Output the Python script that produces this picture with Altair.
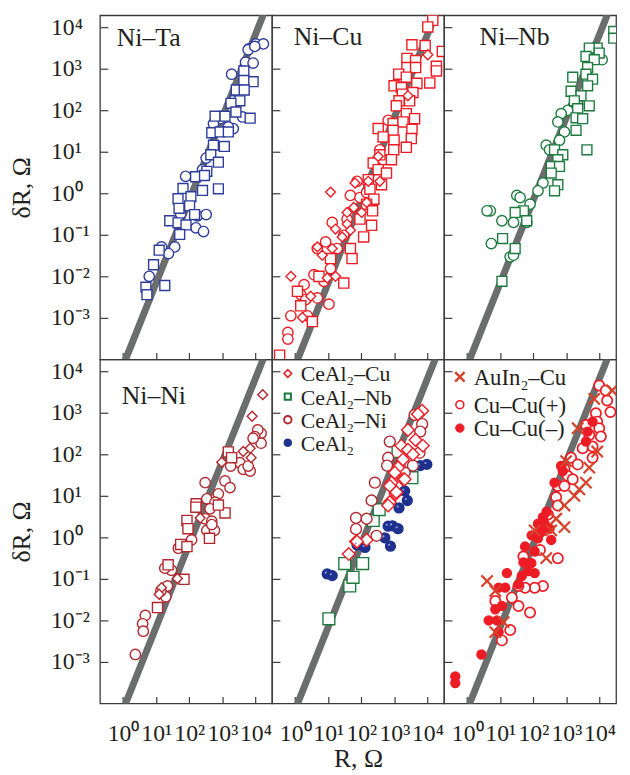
import altair as alt
import pandas as pd

FONT = "Liberation Serif"
INK = "#231f20"
W, H = 174, 348
XDOM = [10 ** -0.7, 10 ** 4.5]
YDOM = [10 ** -4.0, 10 ** 4.29]

# ---- axis ticks / labels ----
x_ticks = [1, 10, 100, 1000, 10000]
x_tick_labels = ["10⁰", "10¹", "10²", "10³", "10⁴"]
x_first_exp = 0
y_ticks = [1e-3, 1e-2, 1e-1, 1, 10, 100, 1000, 10000]
y_tick_labels = ["10⁻³", "10⁻²", "10⁻¹", "10⁰", "10¹", "10²", "10³", "10⁴"]
y_first_exp = -3

# ---- reference line dR ~ R^2 (end points, log10) ----
line_logR = [0.09, 4.22]
line_logdR = [-3.97, 4.27]

# ---- panel titles ----
panel_titles = ["Ni–Ta", "Ni–Cu", "Ni–Nb", "Ni–Ni"]

# ---- data (log10 R, log10 dR) ----
# Ni-Ta
nita_circle_logR = [4.01, 4.24, 3.80, 3.70, 3.93, 3.28, 3.61, 3.33, 3.18, 2.94, 2.73, 2.51, 2.40, 1.89, 1.74, 2.25, 2.51, 2.20, 2.43, 1.56, 1.37, 1.16, 0.79, 3.78, 3.98]
nita_circle_logdR = [3.60, 3.60, 3.48, 3.16, 3.14, 2.87, 1.84, 1.56, 1.60, 1.80, 1.68, 0.85, 0.57, 0.41, -0.50, -0.54, -0.51, -0.83, -0.92, -1.29, -1.45, -1.29, -2.00, 3.46, 3.54]
nita_square_logR = [3.65, 3.93, 3.65, 3.42, 3.66, 3.38, 3.53, 3.26, 3.41, 3.84, 2.78, 3.08, 2.68, 2.93, 3.18, 2.73, 3.06, 2.65, 2.88, 2.53, 2.19, 2.46, 1.81, 2.40, 2.88, 1.66, 2.05, 1.69, 2.01, 2.16, 1.41, 1.66, 1.90, 1.71, 1.09, 0.92, 0.69, 0.72, 1.26]
nita_square_logdR = [2.95, 2.69, 2.72, 2.49, 2.49, 2.23, 2.23, 2.17, 1.96, 1.81, 1.86, 1.86, 1.46, 1.48, 1.48, 1.16, 1.13, 0.93, 0.75, 0.53, 0.40, 0.43, 0.12, 0.07, 0.11, -0.13, -0.08, -0.36, -0.30, -0.51, -0.66, -0.71, -0.76, -0.99, -1.37, -1.72, -2.26, -2.44, -2.22]

# Ni-Cu
nicu_circle_logR = [2.81, 2.56, 2.66, 1.87, 1.67, 1.96, 2.16, 1.12, 1.57, 1.47, 0.92, 1.27, 0.67, 0.57, 0.87, 1.07, 0.27, 0.17, 0.67, 1.02, -0.13, -0.22, -0.22, 0.37, 0.32]
nicu_circle_logdR = [1.76, 1.05, 0.81, 0.29, -0.05, -0.10, 0.02, -0.70, -0.62, -1.01, -1.17, -1.33, -1.33, -1.96, -2.12, -1.81, -2.20, -2.44, -2.52, -2.67, -2.95, -3.35, -3.51, -2.95, -2.56]
nicu_square_logR = [4.16, 4.01, 3.53, 3.93, 4.45, 3.38, 3.64, 3.38, 3.64, 4.27, 4.27, 3.13, 3.36, 3.68, 4.07, 2.99, 3.21, 3.24, 3.56, 3.14, 3.46, 3.06, 3.36, 3.61, 2.96, 3.26, 2.51, 2.96, 3.53, 2.66, 2.99, 3.51, 2.98, 3.36, 2.56, 2.91, 2.36, 2.51, 2.76, 2.21, 2.61, 2.26, 2.38, 2.16, 2.34, 1.96, 2.31, 2.07, 1.67, 1.72, 1.07, 0.72, 1.47, 0.07, 0.17, 0.52, -0.47]
nicu_square_logdR = [4.17, 4.01, 3.58, 3.56, 3.42, 3.25, 3.20, 3.03, 3.03, 3.06, 2.95, 2.87, 2.80, 2.65, 2.66, 2.59, 2.55, 2.39, 2.43, 2.23, 2.23, 2.11, 1.92, 1.80, 1.68, 1.72, 1.56, 1.52, 1.54, 1.36, 1.28, 1.32, 1.05, 1.11, 0.93, 0.81, 0.73, 0.57, 0.49, 0.33, 0.21, 0.10, -0.14, -0.26, -0.42, -0.62, -0.77, -1.05, -1.33, -1.57, -1.57, -2.00, -2.16, -2.36, -2.71, -3.09, -3.90]
nicu_diamond_logR = [4.01, 3.41, 2.51, 2.56, 2.21, 1.81, 1.07, 2.16, 1.77, 2.01, 1.57, 1.57, 1.22, 1.67, 1.42, 0.67, 0.82, 1.12, 0.97, 1.22, -0.13, 0.47, 0.22]
nicu_diamond_logdR = [3.34, 2.35, 0.89, 0.29, 0.29, 0.25, 0.03, -0.22, -0.34, -0.46, -0.46, -0.74, -0.86, -0.89, -1.05, -1.29, -1.49, -1.33, -2.04, -2.00, -2.00, -2.48, -2.99]

# Ni-Nb
ninb_circle_logR = [4.08, 3.64, 3.34, 3.04, 2.84, 2.74, 2.94, 2.79, 2.39, 2.49, 2.29, 2.14, 1.90, 1.50, 1.60, 1.40, 1.80, 1.05, 0.70, 0.60, 0.73, 1.30, 1.40]
ninb_circle_logdR = [3.22, 2.75, 2.15, 2.00, 1.92, 1.72, 1.48, 1.28, 1.16, 1.05, 0.25, 0.06, -0.26, -0.05, -0.10, -0.70, -0.70, -0.66, -0.42, -0.42, -1.21, -1.53, -1.49]
ninb_square_logR = [4.43, 4.43, 3.93, 3.69, 3.99, 3.59, 3.84, 3.64, 3.59, 3.19, 3.79, 3.64, 3.14, 3.44, 3.24, 3.69, 3.34, 3.29, 3.49, 3.29, 3.62, 2.64, 2.89, 2.74, 2.54, 2.79, 2.54, 2.74, 2.64, 1.70, 1.45, 1.80, 1.07, 1.45, 1.05]
ninb_square_logdR = [3.90, 3.74, 3.50, 3.50, 3.38, 3.30, 3.22, 3.03, 2.87, 2.80, 2.75, 2.59, 2.46, 2.35, 2.23, 2.11, 2.04, 1.82, 1.80, 1.52, 1.05, 1.05, 0.93, 0.81, 0.65, 0.65, 0.49, 0.21, 0.06, -0.42, -0.46, -0.66, -1.09, -1.33, -2.12]

# Ni-Ni
nini_circle_logR = [4.17, 4.07, 3.98, 4.17, 3.93, 3.53, 3.63, 3.84, 3.78, 3.25, 3.08, 3.23, 2.48, 2.88, 2.53, 2.78, 2.63, 2.48, 2.68, 2.53, 2.76, 2.68, 2.07, 1.67, 1.46, 1.26, 1.34, 1.29, 1.14, 0.67, 0.59, 0.61, 0.37]
nini_circle_logdR = [2.51, 2.59, 2.43, 2.27, 2.39, 1.80, 1.64, 1.60, 1.72, 1.72, 1.36, 1.20, 1.32, 1.05, 0.93, 0.85, 0.69, 0.45, 0.39, 0.17, 0.17, 0.31, -0.06, -0.26, -0.79, -0.74, -1.17, -1.43, -1.29, -1.88, -2.08, -2.26, -2.82]
nini_square_logR = [3.18, 3.28, 2.21, 2.20, 3.08, 2.88, 1.93, 1.96, 2.61, 1.74, 1.93, 1.36, 1.84, 1.04]
nini_square_logdR = [2.06, 1.92, 0.81, 0.73, 0.59, 0.78, 0.41, 0.21, -0.02, -0.17, -0.22, -0.66, -1.01, -1.69]
nini_diamond_logR = [4.22, 3.90, 3.84, 3.87, 3.63, 2.98, 2.33, 1.64, 1.16, 1.09]
nini_diamond_logdR = [3.44, 2.92, 2.15, 1.92, 2.07, 1.81, 0.47, -0.99, -1.21, -1.37]

# CeAl2 panel
ceal_sphere_logR = [3.98, 3.78, 3.31, 3.39, 3.14, 2.81, 2.94, 3.11, 2.71, 2.88, 1.87, 2.11, 0.97, 1.12]
ceal_sphere_logdR = [1.76, 1.73, 1.12, 0.89, 0.71, 0.27, 0.28, 0.21, -0.01, -0.21, -0.18, -0.24, -0.88, -0.92]
cealnb_square_logR = [1.02, 1.65, 1.75, 1.50, 2.04, 2.36, 2.54, 3.53, 3.11]
cealnb_square_logdR = [-1.96, -1.17, -0.96, -0.63, -0.63, 0.41, 0.67, 1.44, 2.07]
cealni_circle_logR = [3.61, 3.84, 3.78, 2.86, 3.76, 2.81, 2.78, 3.16, 3.56, 3.31, 2.41, 2.31, 1.84, 2.16, 1.84, 2.46]
cealni_circle_logdR = [2.95, 2.73, 2.55, 2.31, 2.04, 1.92, 1.73, 1.73, 1.73, 1.56, 1.32, 0.89, 0.47, 0.45, 0.20, 0.04]
cealcu_diamond_logR = [3.84, 3.71, 3.41, 3.64, 3.86, 3.21, 3.41, 3.56, 3.26, 3.11, 3.01, 3.26, 2.91, 3.04, 2.86, 2.81, 1.84, 2.16, 1.62, 2.86, 3.06, 3.31, 1.87]
cealcu_diamond_logdR = [3.05, 2.97, 2.59, 2.35, 2.21, 2.21, 2.11, 2.00, 1.88, 1.68, 1.56, 1.40, 1.32, 1.05, 0.85, 0.77, -0.10, -0.06, -0.40, 1.24, 1.09, 1.40, -0.10]

# Cu-Cu panel
cucu_plus_logR = [3.99, 4.19, 4.23, 4.33, 3.89, 3.93, 3.99, 4.04, 3.59, 3.69, 3.79, 3.49, 3.79, 3.14, 3.34, 2.94, 3.04, 3.19, 2.74, 2.94, 2.69, 2.74, 2.74, 1.70, 2.29, 2.04, 1.75, 1.55, 1.35, 1.55, 1.90, 0.85, 1.30, 1.05, 2.44, 2.20]
cucu_plus_logdR = [3.66, 3.54, 3.30, 3.02, 2.99, 2.79, 2.63, 2.43, 2.71, 2.47, 2.19, 2.15, 1.92, 1.92, 1.76, 1.64, 1.48, 1.40, 1.24, 1.24, 0.97, 0.77, -0.50, -0.46, -1.17, -1.21, -1.21, -1.17, -1.45, -1.65, -1.81, -1.53, -2.23, -2.48, 0.55, -0.30]
cucu_minus_logR = [3.79, 3.64, 3.59, 2.84, 2.89, 2.64, 2.29, 2.14, 2.34, 2.49, 2.24, 2.14, 2.54, 1.75, 2.04, 1.94, 1.84, 2.04, 1.65, 1.55, 1.20, 1.15, 0.95, 1.05, 0.85, 0.65, 0.90, 0.95, 0.43, -0.36, -0.36, 2.40, 1.95, 1.70]
cucu_minus_logdR = [2.79, 2.55, 2.31, 1.72, 1.60, 1.32, 0.49, 0.33, 0.33, 0.21, 0.13, -0.02, -0.06, -0.22, -0.34, -0.62, -0.81, -0.86, -0.93, -1.13, -0.86, -1.21, -1.21, -1.65, -1.73, -2.00, -2.00, -2.28, -2.82, -3.35, -3.51, 0.62, 0.05, -0.60]
auin_cross_logR = [4.38, 3.84, 3.34, 3.93, 2.99, 3.69, 3.59, 3.39, 3.24, 2.94, 2.69, 2.94, 2.54, 2.39, 2.04, 0.60, 0.85, 1.10, 0.85]
auin_cross_logdR = [3.54, 3.34, 2.63, 2.07, 1.84, 1.68, 1.32, 1.16, 1.00, 0.77, 0.45, 0.25, 0.17, -0.50, 0.17, -1.05, -1.29, -2.04, -2.28]

# ---- styles ----
BLUE = "#2c3c9a"
RED = "#ed1c24"
GREEN = "#1c7a3e"
DRED = "#b2272d"
SBLUE = "#1f318f"
XRED = "#d8412a"
XPATH = "M-1,-1L1,1M-1,1L1,-1"


def frame(series_list):
    rows = []
    for name, lx, ly in series_list:
        for a, b in zip(lx, ly):
            rows.append({"series": name, "R": 10 ** a, "dR": 10 ** b})
    return pd.DataFrame(rows)


def label_expr(labels, first_exp):
    arr = "[" + ",".join("'" + s + "'" for s in labels) + "]"
    return f"{arr}[round(log(datum.value)/LN10)-({first_exp})]"


def x_axis(bottom, title=None):
    kw = dict(values=x_ticks, tickSize=7, offset=-7, domain=False, grid=False,
              tickColor="#3a3a3a", tickWidth=1.2)
    if bottom:
        kw.update(labelExpr=label_expr(x_tick_labels, x_first_exp), labelFont=FONT,
                  labelFontSize=24, labelColor=INK, labelPadding=18, labelBaseline="top",
                  labelAlign="center", labelOverlap=False, labelFlush=False,
                  title=title, titleFont=FONT, titleFontSize=26, titleFontWeight="normal",
                  titleColor=INK, titlePadding=1)
    else:
        kw.update(labels=False, title=None)
    return alt.Axis(**kw)


def y_axis(left):
    kw = dict(values=y_ticks, tickSize=8, offset=-8, domain=False, grid=False,
              tickColor="#3a3a3a", tickWidth=1.2)
    if left:
        kw.update(labelExpr=label_expr(y_tick_labels, y_first_exp), labelFont=FONT,
                  labelFontSize=24, labelColor=INK, labelPadding=50, labelAlign="left",
                  labelBaseline="middle", labelOverlap=False, labelFlush=False,
                  title="δR, Ω", titleFont=FONT, titleFontSize=26, titleFontWeight="normal",
                  titleColor=INK, titlePadding=16)
    else:
        kw.update(labels=False, title=None)
    return alt.Axis(**kw)


line_df = pd.DataFrame({"R": [10 ** v for v in line_logR], "dR": [10 ** v for v in line_logdR]})


def panel(df, domain, shapes, strokes, fills, sizes, widths, xa, ya,
          title=None, tx=0, ty=0, legend_rows=None, extra=None):
    xs = alt.Scale(type="log", domain=XDOM, nice=False)
    ys = alt.Scale(type="log", domain=YDOM, nice=False)
    sh = alt.Scale(domain=domain, range=shapes)
    st = alt.Scale(domain=domain, range=strokes)
    fi = alt.Scale(domain=domain, range=fills)
    base_line = alt.Chart(line_df).mark_line(
        color="#6c6e6e", strokeWidth=7, strokeCap="round", clip=True
    ).encode(x=alt.X("R:Q", scale=xs, axis=xa), y=alt.Y("dR:Q", scale=ys, axis=ya))
    pts = alt.Chart(df).mark_point(filled=True, opacity=1, clip=True).encode(
        x=alt.X("R:Q", scale=xs, axis=xa),
        y=alt.Y("dR:Q", scale=ys, axis=ya),
        shape=alt.Shape("series:N", scale=sh, legend=None),
        stroke=alt.Stroke("series:N", scale=st, legend=None),
        fill=alt.Fill("series:N", scale=fi, legend=None),
        size=alt.Size("series:N", scale=alt.Scale(domain=domain, range=sizes), legend=None),
        strokeWidth=alt.StrokeWidth("series:N", scale=alt.Scale(domain=domain, range=widths), legend=None),
        order=alt.Order("ord:Q"),
    )
    layers = [base_line, pts]
    if extra is not None:
        layers.append(extra(xs, ys, xa, ya))
    if legend_rows is not None:
        sx, lx, fs, rows = legend_rows
        for name, ly, lsize, lsw in rows:
            one = pd.DataFrame({"series": [name]})
            layers.append(alt.Chart(one).mark_point(filled=True, opacity=1, size=lsize, strokeWidth=lsw).encode(
                shape=alt.Shape("series:N", scale=sh, legend=None),
                stroke=alt.Stroke("series:N", scale=st, legend=None),
                fill=alt.Fill("series:N", scale=fi, legend=None),
                x=alt.value(sx), y=alt.value(ly)))
            layers.append(alt.Chart(one).mark_text(
                font=FONT, fontSize=fs, color=INK, align="left", baseline="middle", dy=1
            ).encode(text="series:N", x=alt.value(lx), y=alt.value(ly)))
    if title is not None:
        t = alt.Chart(pd.DataFrame({"t": [title]})).mark_text(
            font=FONT, fontSize=26, color=INK, align="left", baseline="alphabetic"
        ).encode(text="t:N", x=alt.value(tx), y=alt.value(ty))
        layers.append(t)
    return alt.layer(*layers).properties(width=W, height=H)


def ordered(df, order):
    df = df.copy()
    df["ord"] = df["series"].map({s: i for i, s in enumerate(order)}) * 1000 + range(len(df))
    return df


# Panel 1: Ni-Ta
d1 = ordered(frame([("c", nita_circle_logR, nita_circle_logdR), ("s", nita_square_logR, nita_square_logdR)]), ["c", "s"])
p1 = panel(d1, ["c", "s"], ["circle", "square"], [BLUE, BLUE], ["white", "white"], [110, 100], [1.4, 1.4],
           x_axis(False), y_axis(True), panel_titles[0], 17, 31)

# Panel 2: Ni-Cu
d2 = ordered(frame([("c", nicu_circle_logR, nicu_circle_logdR), ("s", nicu_square_logR, nicu_square_logdR),
                    ("d", nicu_diamond_logR, nicu_diamond_logdR)]), ["c", "s", "d"])
p2 = panel(d2, ["c", "s", "d"], ["circle", "square", "diamond"], [RED, RED, RED], ["white"] * 3, [110, 100, 165],
           [1.4, 1.4, 1.4], x_axis(False), y_axis(False), panel_titles[1], 22, 30)

# Panel 3: Ni-Nb
d3 = ordered(frame([("c", ninb_circle_logR, ninb_circle_logdR), ("s", ninb_square_logR, ninb_square_logdR)]), ["c", "s"])
p3 = panel(d3, ["c", "s"], ["circle", "square"], [GREEN, GREEN], ["white", "white"], [110, 100], [1.4, 1.4],
           x_axis(False), y_axis(False), panel_titles[2], 36, 30)

# Panel 4: Ni-Ni
d4 = ordered(frame([("c", nini_circle_logR, nini_circle_logdR), ("s", nini_square_logR, nini_square_logdR),
                    ("d", nini_diamond_logR, nini_diamond_logdR)]), ["c", "s", "d"])
p4 = panel(d4, ["c", "s", "d"], ["circle", "square", "diamond"], [DRED] * 3, ["white"] * 3, [110, 100, 165],
           [1.4, 1.4, 1.4], x_axis(True), y_axis(True), panel_titles[3], 22, 45)

# Panel 5: CeAl2
s5 = ["CeAl₂–Cu", "CeAl₂–Nb", "CeAl₂–Ni", "CeAl₂"]
d5 = ordered(frame([(s5[3], ceal_sphere_logR, ceal_sphere_logdR), (s5[1], cealnb_square_logR, cealnb_square_logdR),
                    (s5[2], cealni_circle_logR, cealni_circle_logdR), (s5[0], cealcu_diamond_logR, cealcu_diamond_logdR)]),
             [s5[3], s5[1], s5[2], s5[0]])


def sphere_highlight(xs, ys, xa, ya):
    hd = pd.DataFrame({"R": [10 ** v for v in ceal_sphere_logR], "dR": [10 ** v for v in ceal_sphere_logdR]})
    return alt.Chart(hd).mark_point(filled=True, opacity=1, color="#8b9be6", size=5, xOffset=-1.4, yOffset=-1.4,
                                    clip=True).encode(x=alt.X("R:Q", scale=xs, axis=xa), y=alt.Y("dR:Q", scale=ys, axis=ya))


leg5 = (16, 29, 22, [(s5[0], 14.3, 60, 1.6), (s5[1], 37.7, 40, 2.0), (s5[2], 61, 56, 2.0), (s5[3], 84.3, 60, 1.0)])
p5 = panel(d5, s5, ["diamond", "square", "circle", "circle"], [RED, GREEN, DRED, SBLUE],
           ["white", "white", "white", SBLUE], [165, 100, 110, 64], [1.4, 1.4, 1.4, 1.0],
           x_axis(True, "R, Ω"), y_axis(False), legend_rows=leg5, extra=sphere_highlight)

# Panel 6: Cu-Cu
s6 = ["AuIn₂–Cu", "Cu–Cu(+)", "Cu–Cu(–)"]
d6 = ordered(frame([(s6[1], cucu_plus_logR, cucu_plus_logdR), (s6[2], cucu_minus_logR, cucu_minus_logdR),
                    (s6[0], auin_cross_logR, auin_cross_logdR)]), [s6[1], s6[2], s6[0]])
leg6 = (16, 30, 23, [(s6[0], 17.7, 90, 2.4), (s6[1], 45.8, 64, 1.6), (s6[2], 69.5, 72, 1.0)])
p6 = panel(d6, s6, [XPATH, "circle", "circle"], [XRED, RED, RED], ["white", "white", RED], [130, 85, 85],
           [2.2, 1.3, 1.3], x_axis(True), y_axis(False), legend_rows=leg6)

chart = alt.concat(p1, p2, p3, p4, p5, p6, columns=3, spacing=0, bounds="flush").resolve_scale(
    shape="independent", stroke="independent", fill="independent", size="independent", strokeWidth="independent"
).configure_view(stroke="#3a3a3a", strokeWidth=1.3).properties(
    padding={"left": 0, "top": 2, "right": 5, "bottom": 0}, background="white"
)

chart.save("out.html", embed_options={"renderer": "svg", "actions": False})
